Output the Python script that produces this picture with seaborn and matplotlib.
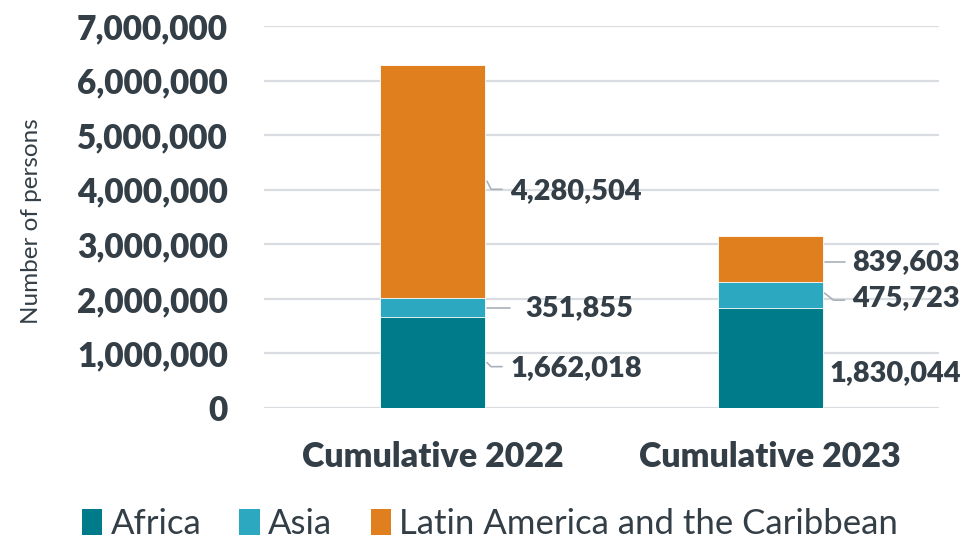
import matplotlib
matplotlib.use("Agg")
import matplotlib.pyplot as plt
import seaborn as sns
import pandas as pd
from matplotlib.patches import Patch

# Data
periods = ["Cumulative 2022", "Cumulative 2023"]
regions = ["Africa", "Asia", "Latin America and the Caribbean"]
africa = [1662018, 1830044]
asia = [351855, 475723]
latam = [4280504, 839603]
y_ticks = [0, 1000000, 2000000, 3000000, 4000000, 5000000, 6000000, 7000000]

colors = {"Africa": "#007B8A", "Asia": "#2CA9C1", "Latin America and the Caribbean": "#E07F1E"}
text_color = "#333E46"
grid_color = "#D9DDE2"
leader_color = "#A9B1B8"

sns.set_theme(style="white")
plt.rcParams["font.family"] = ["Lato", "DejaVu Sans"]
heavy = "heavy"

df = pd.DataFrame({"period": periods, "Africa": africa, "Asia": asia, "Latin America and the Caribbean": latam})
df["c1"] = df["Africa"]
df["c2"] = df["Africa"] + df["Asia"]
df["c3"] = df["c2"] + df["Latin America and the Caribbean"]

W, H = 964, 539
fig = plt.figure(figsize=(W / 100, H / 100), dpi=100)
ax = fig.add_axes([264 / W, 131 / H, 675 / W, 382 / H])

bar_w = 0.31
# stacked bars: draw cumulative totals back to front
for col, reg in [("c3", regions[2]), ("c2", regions[1]), ("c1", regions[0])]:
    sns.barplot(data=df, x="period", y=col, color=colors[reg], width=bar_w, ax=ax,
                saturation=1, edgecolor="white", linewidth=0.6, zorder=3)

ax.set_xlim(-0.5, 1.5)
ax.set_ylim(0, 7000000)
ax.set_yticks(y_ticks)
ax.set_yticklabels([f"{v:,}" for v in y_ticks])
ax.yaxis.grid(True, color=grid_color, linewidth=1.6, zorder=0)
ax.set_axisbelow(True)
for s in ax.spines.values():
    s.set_visible(False)
ax.tick_params(axis="y", length=0, pad=26, labelsize=24, labelcolor=text_color)
ax.tick_params(axis="x", length=0, pad=24, labelsize=24.5, labelcolor=text_color)
for lab in ax.get_yticklabels() + ax.get_xticklabels():
    lab.set_fontweight(heavy)
ax.set_xlabel("")
ax.set_ylabel("")
fig.text(32 / W, 1 - 221 / H, "Number of persons", rotation=90, ha="center", va="center",
         fontsize=17.5, color=text_color)

# data labels with leader lines; offsets in pixels (positive = down) from (bar right edge, segment middle)
px_x = 338.0          # pixels per category unit
px_y = 382.0 / 7e6    # pixels per person
label_style = {
    # (period index, region): (label dx, label dy, leader points)
    (0, 2): (25, 10, [(2, 0), (6, 8), (17, 8)]),
    (0, 1): (40, 0, [(2, 0), (25, 0)]),
    (0, 0): (25, 5, [(2, 0), (6, 4), (17, 4)]),
    (1, 2): (30, 3, [(2, 3), (22, 3)]),
    (1, 1): (30, 3, [(2, -2), (11, 5), (22, 5)]),
    (1, 0): (7, 15, None),
}
values = [africa, asia, latam]
for i in range(len(periods)):
    base = 0
    for r in range(len(regions)):
        v = values[r][i]
        mid = base + v / 2
        base += v
        x_edge = i + bar_w / 2
        dx, dy, pts = label_style[(i, r)]
        if pts:
            xs = [x_edge + p[0] / px_x for p in pts]
            ys = [mid - p[1] / px_y for p in pts]
            ax.plot(xs, ys, color=leader_color, linewidth=1.2, zorder=4, clip_on=False)
        ax.text(x_edge + dx / px_x, mid - dy / px_y, f"{v:,}", ha="left", va="center",
                fontsize=20.8, fontweight=heavy, color=text_color, zorder=5)

handles = [Patch(facecolor=colors[r], edgecolor="none") for r in regions]
leg = fig.legend(handles, regions, loc="center", bbox_to_anchor=(490 / W, 1 - 524 / H), ncol=3,
                 frameon=False, fontsize=25, handlelength=0.58, handleheight=0.75,
                 handletextpad=0.25, columnspacing=1.1, labelcolor=text_color)

fig.savefig("out.png", dpi=100)
